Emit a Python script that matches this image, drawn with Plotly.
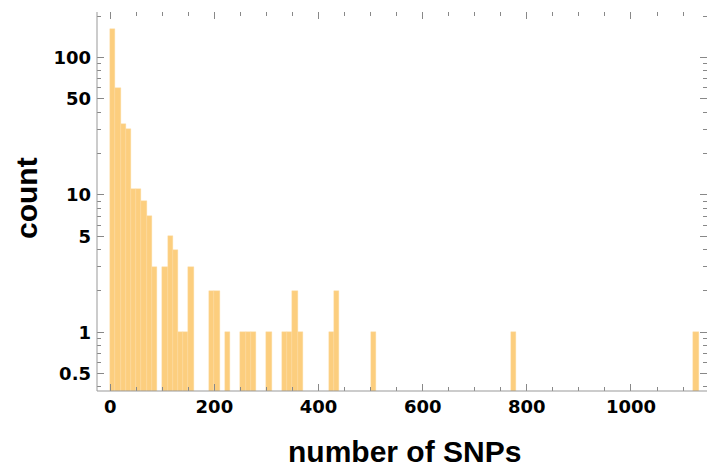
import plotly.graph_objects as go

# Histogram of number of SNPs (bin width 10), counts per bin (non-empty bins only)
bin_starts = [0, 10, 20, 30, 40, 50, 60, 70, 80, 100, 110, 120, 130, 140, 150,
              190, 200, 220, 250, 260, 270, 300, 330, 340, 350, 360, 420, 430,
              500, 770, 1120]
counts = [160, 60, 33, 30, 11, 11, 9, 7, 3, 3, 5, 4, 1, 1, 3,
          2, 2, 1, 1, 1, 1, 1, 1, 1, 2, 1, 1, 2,
          1, 1, 1]
bin_width = 10

x_ticks = [0, 200, 400, 600, 800, 1000]
y_ticks = [0.5, 1, 5, 10, 50, 100]
y_tick_text = ["0.5", "1", "5", "10", "50", "100"]
y_minor = [0.4, 0.6, 0.7, 0.8, 0.9, 2, 3, 4, 6, 7, 8, 9,
           20, 30, 40, 60, 70, 80, 90, 200]

bar_color = "rgb(252,206,126)"
tick_color = "#888888"
tick_font = dict(family="DejaVu Sans", size=18, color="black", weight="bold")

fig = go.Figure(go.Bar(
    x=[s + bin_width / 2 for s in bin_starts],
    y=counts,
    width=bin_width,
    marker=dict(color=bar_color, line=dict(width=0.4, color="rgb(253,220,165)")),
))

fig.update_layout(
    width=707, height=468,
    margin=dict(l=97, r=0, t=12, b=77),
    plot_bgcolor="white", paper_bgcolor="white",
    showlegend=False, bargap=0,
)

fig.update_xaxes(
    range=[-25.4, 1146], tickvals=x_ticks,
    ticks="inside", ticklen=7, tickwidth=1, tickcolor=tick_color,
    showline=False, mirror="ticks", showgrid=False, zeroline=False,
    minor=dict(dtick=50, tick0=0, ticks="inside", ticklen=4, tickwidth=1,
               tickcolor=tick_color, showgrid=False),
    tickfont=tick_font, ticklabelstandoff=3,
)
fig.update_yaxes(
    type="log", range=[-0.4275, 2.331],
    tickvals=y_ticks, ticktext=y_tick_text,
    ticks="inside", ticklen=7, tickwidth=1, tickcolor=tick_color,
    showline=False, mirror="ticks", showgrid=False, zeroline=False,
    minor=dict(tickvals=y_minor, ticks="inside", ticklen=4, tickwidth=1,
               tickcolor=tick_color, showgrid=False),
    tickfont=tick_font, ticklabelstandoff=5,
)

# left and bottom frame lines
fig.add_shape(type="line", xref="paper", yref="paper", x0=0, x1=0, y0=0, y1=1,
              line=dict(color="#999999", width=1))
fig.add_shape(type="line", xref="paper", yref="paper", x0=0, x1=1, y0=0, y1=0,
              line=dict(color="#999999", width=1))

title_font = dict(family="Liberation Sans", size=30, color="black", weight="bold")
fig.add_annotation(text="number of SNPs", xref="paper", yref="paper",
                   x=(404 - 97) / 610, y=-(451 - 391) / 379,
                   showarrow=False, font=title_font, xanchor="center", yanchor="middle")
fig.add_annotation(text="count", xref="paper", yref="paper",
                   x=-(97 - 26) / 610, y=(391 - 198) / 379, textangle=-90,
                   showarrow=False, font=title_font, xanchor="center", yanchor="middle")

fig.write_html("out.html")
